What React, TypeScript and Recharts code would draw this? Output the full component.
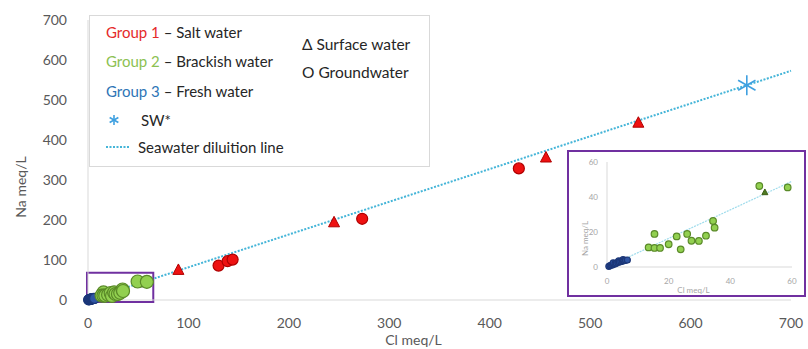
import React from 'react';
import { ScatterChart, Scatter, XAxis, YAxis, ReferenceArea } from 'recharts';

// axis ticks
const mainTicks = [0, 100, 200, 300, 400, 500, 600, 700];
const insetTicks = [0, 20, 40, 60];

// Group 1 - salt water (Cl, Na in meq/L)
const group1Surface = [
  { x: 90, y: 75 },
  { x: 245, y: 194 },
  { x: 456, y: 356 },
  { x: 548, y: 443 },
];
const group1Ground = [
  { x: 130, y: 86 },
  { x: 139, y: 97 },
  { x: 144, y: 101 },
  { x: 273, y: 203 },
  { x: 429, y: 329 },
];

// Group 2 - brackish water
const group2Surface = [{ x: 51.2, y: 42.7 }];
const group2Ground = [
  { x: 15.4, y: 18.9 },
  { x: 13.5, y: 11.2 },
  { x: 15.4, y: 10.9 },
  { x: 17.2, y: 10.9 },
  { x: 20.0, y: 13.0 },
  { x: 22.6, y: 17.5 },
  { x: 23.9, y: 10.1 },
  { x: 26.0, y: 18.9 },
  { x: 27.4, y: 15.0 },
  { x: 29.8, y: 14.9 },
  { x: 32.1, y: 17.9 },
  { x: 34.4, y: 26.3 },
  { x: 34.9, y: 22.5 },
  { x: 49.4, y: 46.3 },
  { x: 58.6, y: 45.5 },
];

// Group 3 - fresh water
const group3Ground = [
  { x: 0.6, y: 0.4 },
  { x: 1.0, y: 0.8 },
  { x: 1.4, y: 1.0 },
  { x: 1.8, y: 1.3 },
  { x: 2.2, y: 1.6 },
  { x: 2.0, y: 2.4 },
  { x: 2.6, y: 1.9 },
  { x: 3.0, y: 2.2 },
  { x: 3.5, y: 2.6 },
  { x: 3.8, y: 3.5 },
  { x: 4.0, y: 2.9 },
  { x: 4.5, y: 3.2 },
  { x: 5.0, y: 3.4 },
  { x: 5.2, y: 4.2 },
  { x: 5.5, y: 3.7 },
  { x: 6.0, y: 3.8 },
  { x: 6.6, y: 4.0 },
];

// seawater sample and dilution line
const seawater = [{ x: 656, y: 537 }];
const dilutionLine = [
  { x: 0, y: 0 },
  { x: 700, y: 573 },
];
const insetDilutionLine = [
  { x: 0, y: 0 },
  { x: 60, y: 49 },
];

// zoom window drawn on the main chart
const zoomBox = { x1: -1, x2: 65, y1: -5, y2: 68 };

const RED = '#ee1111';
const RED_EDGE = '#b00000';
const GREEN = '#92d050';
const GREEN_EDGE = '#5a8a28';
const BLUE = '#2f55a4';
const BLUE_EDGE = '#1c3778';
const SW_BLUE = '#3fa0e0';
const LINE_BLUE = '#45b5d8';
const PURPLE = '#7030a0';
const FONT = 'Lato, "Open Sans", sans-serif';

const circle = (r: number, fill: string, stroke: string) => (p: any) => (
  <circle cx={p.cx} cy={p.cy} r={r} fill={fill} stroke={stroke} strokeWidth={1.2} />
);

const triangle = (s: number, fill: string, stroke: string) => (p: any) => (
  <path
    d={`M${p.cx},${p.cy - s * 0.55} L${p.cx + s / 2},${p.cy + s * 0.4} L${p.cx - s / 2},${p.cy + s * 0.4} Z`}
    fill={fill}
    stroke={stroke}
    strokeWidth={1}
  />
);

const asterisk = (r: number) => (p: any) => {
  const d = r * 0.87;
  return (
    <g stroke={SW_BLUE} strokeWidth={1.6}>
      <line x1={p.cx} y1={p.cy - r} x2={p.cx} y2={p.cy + r} />
      <line x1={p.cx - d} y1={p.cy - r / 2} x2={p.cx + d} y2={p.cy + r / 2} />
      <line x1={p.cx - d} y1={p.cy + r / 2} x2={p.cx + d} y2={p.cy - r / 2} />
    </g>
  );
};

const noDot = () => <g />;

const Legend = () => {
  const row = (top: number, left: number, children: React.ReactNode) => (
    <div style={{ position: 'absolute', top: top - 10, left, height: 20, lineHeight: '20px', whiteSpace: 'nowrap' }}>
      {children}
    </div>
  );
  return (
    <div
      style={{
        position: 'absolute',
        left: 89,
        top: 15,
        width: 341,
        height: 152,
        border: '1px solid #d9d9d9',
        boxSizing: 'border-box',
        background: '#fff',
        fontFamily: FONT,
        fontSize: 15,
        color: '#262626',
      }}
    >
      {row(16, 16, <><span style={{ color: '#e52a2a' }}>Group 1</span> – Salt water</>)}
      {row(45, 16, <><span style={{ color: '#8cc152' }}>Group 2</span> – Brackish water</>)}
      {row(75, 16, <><span style={{ color: '#2e75b6' }}>Group 3</span> – Fresh water</>)}
      {row(28, 212, <span style={{ fontSize: 15.5 }}>Δ Surface water</span>)}
      {row(56, 212, <span style={{ fontSize: 15.5 }}>O Groundwater</span>)}
      <svg style={{ position: 'absolute', left: 16, top: 94 }} width={20} height={20}>
        {asterisk(5)({ cx: 8, cy: 10 })}
      </svg>
      {row(104, 51, <>SW*</>)}
      <svg style={{ position: 'absolute', left: 16, top: 126 }} width={26} height={10}>
        <line x1={0} y1={5} x2={24} y2={5} stroke={LINE_BLUE} strokeWidth={2} strokeDasharray="2 1.5" />
      </svg>
      {row(131, 48, <>Seawater diluition line</>)}
    </div>
  );
};

const Inset = () => (
  <div
    style={{
      position: 'absolute',
      left: 567,
      top: 150,
      width: 239,
      height: 147,
      border: `2px solid ${PURPLE}`,
      boxSizing: 'border-box',
      background: '#fff',
    }}
  >
    <ScatterChart width={235} height={143} margin={{ top: 10, right: 12, bottom: 0, left: 0 }}>
      <XAxis
        type="number"
        dataKey="x"
        domain={[0, 60]}
        ticks={insetTicks}
        tickLine={false}
        tickSize={0}
        tickMargin={11}
        height={28}
        stroke="#d9d9d9"
        tick={{ fill: '#a6a6a6', fontSize: 8, fontFamily: FONT }}
        label={{
          content: (p: any) => (
            <text
              x={p.viewBox.x + p.viewBox.width / 2 - 6}
              y={p.viewBox.y + 24}
              textAnchor="middle"
              dominantBaseline="middle"
              fill="#a6a6a6"
              fontSize={8}
              fontFamily={FONT}
            >
              Cl meq/L
            </text>
          ),
        }}
      />
      <YAxis
        type="number"
        dataKey="y"
        domain={[0, 60]}
        ticks={insetTicks}
        tickLine={false}
        tickSize={0}
        tickMargin={9}
        width={38}
        stroke="#d9d9d9"
        tick={{ fill: '#a6a6a6', fontSize: 8, fontFamily: FONT }}
        label={{
          content: (p: any) => {
            const cx = p.viewBox.x + 17;
            const cy = p.viewBox.y + p.viewBox.height / 2 + 24;
            return (
              <text
                x={cx}
                y={cy}
                transform={`rotate(-90 ${cx} ${cy})`}
                textAnchor="middle"
                dominantBaseline="middle"
                fill="#a6a6a6"
                fontSize={8}
                fontFamily={FONT}
              >
                Na meq/L
              </text>
            );
          },
        }}
      />
      <Scatter
        data={insetDilutionLine}
        line={{ stroke: '#9fdcec', strokeWidth: 1.2, strokeDasharray: '2 1' }}
        shape={noDot}
        isAnimationActive={false}
      />
      <Scatter data={group3Ground} shape={circle(3, BLUE, BLUE_EDGE)} isAnimationActive={false} />
      <Scatter data={group2Ground} shape={circle(3.3, GREEN, GREEN_EDGE)} isAnimationActive={false} />
      <Scatter data={group2Surface} shape={triangle(6, '#4f7a22', '#3d6018')} isAnimationActive={false} />
    </ScatterChart>
  </div>
);

export default function App() {
  return (
    <div style={{ position: 'absolute', left: 0, top: 0, width: 808, height: 349, background: '#fff', fontFamily: FONT }}>
      <ScatterChart width={808} height={349} margin={{ top: 20, right: 17, bottom: 0, left: 0 }}>
        <XAxis
          type="number"
          dataKey="x"
          domain={[0, 700]}
          ticks={mainTicks}
          tickLine={false}
          tickSize={0}
          tickMargin={18}
          height={49}
          stroke="#d9d9d9"
          tick={{ fill: '#595959', fontSize: 14, fontFamily: FONT }}
          label={{
            content: (p: any) => (
              <text
                x={p.viewBox.x + p.viewBox.width / 2 - 26}
                y={p.viewBox.y + 41}
                textAnchor="middle"
                dominantBaseline="middle"
                fill="#595959"
                fontSize={14}
                fontFamily={FONT}
              >
                Cl meq/L
              </text>
            ),
          }}
        />
        <YAxis
          type="number"
          dataKey="y"
          domain={[0, 700]}
          ticks={mainTicks}
          tickLine={false}
          tickSize={0}
          tickMargin={21}
          width={88}
          stroke="#d9d9d9"
          tick={{ fill: '#595959', fontSize: 14, fontFamily: FONT }}
          label={{
            content: (p: any) => {
              const cx = p.viewBox.x + 22;
              const cy = p.viewBox.y + p.viewBox.height / 2 + 27;
              return (
                <text
                  x={cx}
                  y={cy}
                  transform={`rotate(-90 ${cx} ${cy})`}
                  textAnchor="middle"
                  dominantBaseline="middle"
                  fill="#595959"
                  fontSize={14}
                  fontFamily={FONT}
                >
                  Na meq/L
                </text>
              );
            },
          }}
        />
        <Scatter
          data={dilutionLine}
          line={{ stroke: LINE_BLUE, strokeWidth: 2, strokeDasharray: '2 1.5' }}
          shape={noDot}
          isAnimationActive={false}
        />
        <ReferenceArea
          x1={zoomBox.x1}
          x2={zoomBox.x2}
          y1={zoomBox.y1}
          y2={zoomBox.y2}
          ifOverflow="visible"
          fill="none"
          fillOpacity={0}
          stroke={PURPLE}
          strokeWidth={2}
          strokeOpacity={1}
        />
        <Scatter data={group3Ground} shape={circle(5, BLUE, BLUE_EDGE)} isAnimationActive={false} />
        <Scatter data={group2Surface} shape={triangle(10, '#4f7a22', '#3d6018')} isAnimationActive={false} />
        <Scatter data={group2Ground} shape={circle(6.5, GREEN, GREEN_EDGE)} isAnimationActive={false} />
        <Scatter data={group1Ground} shape={circle(5.5, RED, RED_EDGE)} isAnimationActive={false} />
        <Scatter data={group1Surface} shape={triangle(11, RED, RED_EDGE)} isAnimationActive={false} />
        <Scatter data={seawater} shape={asterisk(10)} isAnimationActive={false} />
      </ScatterChart>
      <Legend />
      <Inset />
    </div>
  );
}
